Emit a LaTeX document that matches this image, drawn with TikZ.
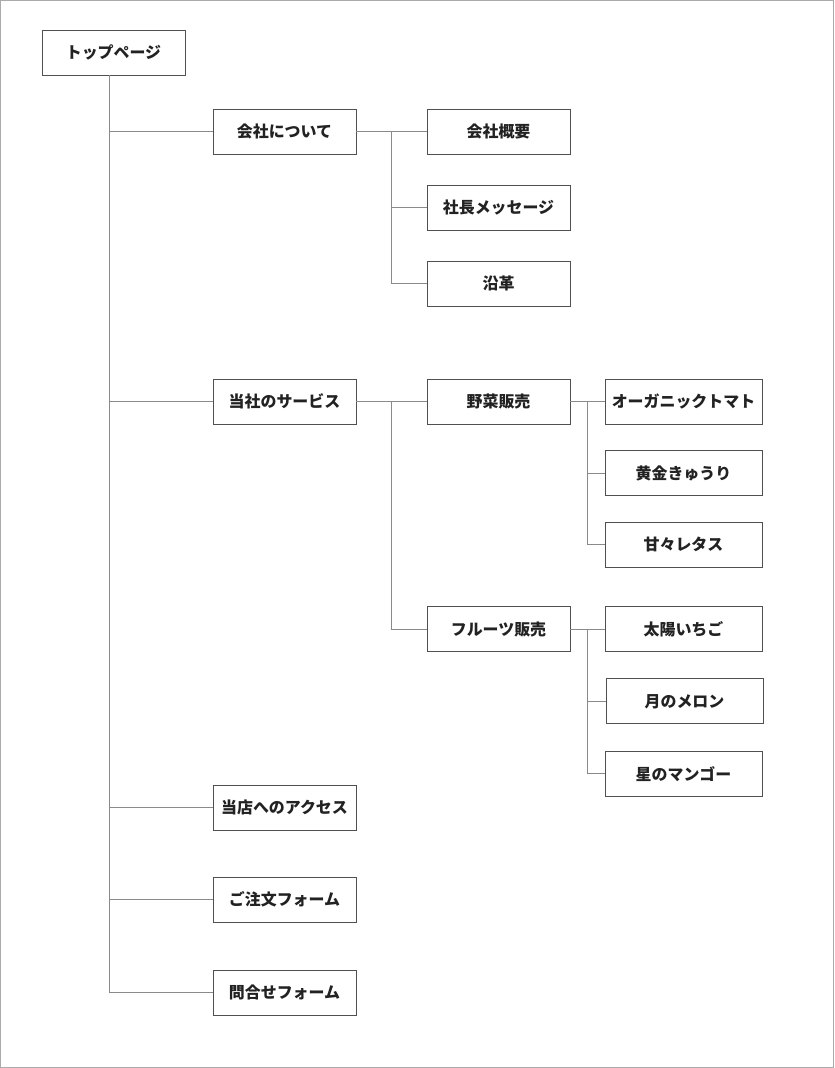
\documentclass[tikz,border=0pt]{standalone}
\usepackage{xcolor}
\usepackage{fontspec}
\setmainfont{Noto Sans CJK JP}
\usepackage{tikz}
\usetikzlibrary{positioning,calc}
\definecolor{boxline}{HTML}{505050}
\definecolor{linkline}{HTML}{8A8A8A}
\definecolor{frameline}{HTML}{AAAAAA}
\definecolor{pagetext}{HTML}{222222}
\tikzstyle{page} = [rectangle, minimum width=4.29cm, minimum height=1.35cm, text centered, draw=boxline, line width=0.8pt, fill=white, text=pagetext, font=\fontsize{13.6pt}{16pt}\selectfont\bfseries, inner sep=0pt, outer sep=0pt]
\tikzstyle{leaf} = [page, minimum width=4.71cm]
\tikzstyle{link} = [draw=linkline, line width=0.8pt]

\begin{document}
\begin{tikzpicture}[node distance=0.8cm]
	\useasboundingbox (0,0) rectangle (25.02,-32.04);
	\draw[frameline, line width=0.8pt] (0.015,-0.015) rectangle (25.005,-32.025);

	\node (Top) [page] at (3.405,-1.575) {トップページ};
	\node (About) [page, below right=1.02cm and 0.84cm of Top] {会社について};
	\node (Service) [page, below=6.75cm of About] {当社のサービス};
	\node (Access) [page, below=10.83cm of Service] {当店へのアクセス};
	\node (Order) [page, below=1.41cm of Access] {ご注文フォーム};
	\node (Contact) [page, below=1.44cm of Order] {問合せフォーム};

	\node (Outline) [page, right=2.13cm of About] {会社概要};
	\node (Message) [page, below=0.93cm of Outline] {社長メッセージ};
	\node (History) [page, below=0.93cm of Message] {沿革};

	\node (Vegetable) [page, right=2.13cm of Service] {野菜販売};
	\node (Fruit) [page, below=5.475cm of Vegetable] {フルーツ販売};

	\node (Tomato) [leaf, right=1.05cm of Vegetable] {オーガニックトマト};
	\node (Cucumber) [leaf, below=0.8cm of Tomato] {黄金きゅうり};
	\node (Lettuce) [leaf, below=0.8cm of Cucumber] {甘々レタス};

	\node (Strawberry) [leaf, right=1.05cm of Fruit] {太陽いちご};
	\node (Melon) [leaf, below=0.82cm of Strawberry, xshift=0.03cm] {月のメロン};
	\node (Mango) [leaf, below=0.82cm of Melon, xshift=-0.03cm] {星のマンゴー};

	% trunk from the top page
	\coordinate (TopRoot) at ([xshift=-1.35mm]Top.south);
	\foreach \n in {About, Service, Access, Order, Contact}
		\draw[link] (TopRoot) |- (\n.west);

	% company pages
	\coordinate (AboutJoint) at ($(About.east)+(1.05,0)$);
	\draw[link] (About.east) -- (Outline.west);
	\foreach \n in {Message, History}
		\draw[link] (AboutJoint) |- (\n.west);

	% service pages
	\coordinate (ServiceJoint) at ($(Service.east)+(1.05,0)$);
	\draw[link] (Service.east) -- (Vegetable.west);
	\draw[link] (ServiceJoint) |- (Fruit.west);

	\coordinate (VegetableJoint) at ($(Vegetable.east)+(0.51,0)$);
	\draw[link] (Vegetable.east) -- (Tomato.west);
	\foreach \n in {Cucumber, Lettuce}
		\draw[link] (VegetableJoint) |- (\n.west);

	\coordinate (FruitJoint) at ($(Fruit.east)+(0.51,0)$);
	\draw[link] (Fruit.east) -- (Strawberry.west);
	\foreach \n in {Melon, Mango}
		\draw[link] (FruitJoint) |- (\n.west);
\end{tikzpicture}
\end{document}
